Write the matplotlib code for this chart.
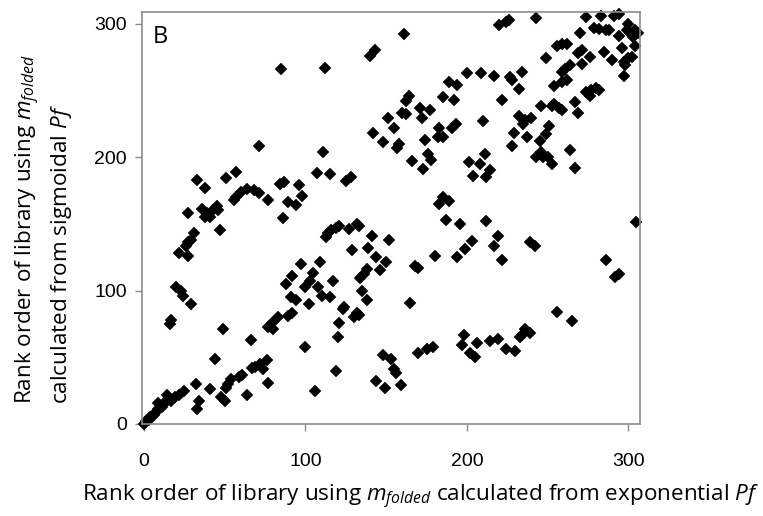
import matplotlib
matplotlib.use("Agg")
import matplotlib.pyplot as plt

plt.rcParams["font.family"] = ["Open Sans", "DejaVu Sans"]
plt.rcParams["mathtext.fontset"] = "custom"
plt.rcParams["mathtext.rm"] = "Open Sans"
plt.rcParams["mathtext.it"] = "Open Sans:italic"

# rank from exponential Pf (x) vs rank from sigmoidal Pf (y)
rank_exp = [
    85, 71, 57, 51, 33, 38, 64, 60, 57, 56, 68, 71, 77, 84, 87, 96, 98, 89, 94,
    27, 36, 39, 41, 43, 45, 46, 38,
    161, 140, 143, 112, 200, 189, 194, 185, 192, 164, 162, 160, 162, 151, 155,
    171, 177, 172, 142, 148, 158, 157, 174, 183, 182, 185, 191, 193, 176, 178,
    166, 173, 111, 107, 115, 125, 128, 185, 183, 189,
    201, 208, 211, 204, 214, 212,
    220, 224, 226, 243, 274, 283, 291, 294, 300, 304, 306, 301, 299, 286, 294,
    279, 282, 288, 270, 259, 256, 262, 271, 269, 276, 285, 296, 304, 303, 290,
    297, 300, 302, 298, 297, 249, 264, 261, 259, 271, 262, 259, 254, 274, 277,
    280, 282, 276, 267, 269, 254, 257, 253, 259, 246, 209, 217, 234, 227, 228,
    232, 222, 210, 232, 236, 240, 235, 251, 229, 237, 249, 245, 228, 246, 243,
    247, 250, 253, 264, 267,
    86, 47, 31, 29, 27, 26, 22, 27, 20, 23, 24, 29, 17, 16, 49, 44, 66, 97, 92,
    88, 100, 91, 94, 92, 89, 100, 83, 79, 80, 77, 76, 72, 69, 74, 67, 61, 59,
    54, 52, 51, 77, 64, 48, 50, 41, 32, 34, 33,
    25, 22, 19, 17, 14, 12, 11, 9, 7, 6, 4, 3, 1, 0, 14, 9, 102,
    187, 196, 113, 114, 116, 119, 121, 127, 132, 133, 141, 152, 139, 129, 144,
    150, 146, 138, 136, 134, 135, 138, 109, 105, 103, 108, 110, 115, 117, 124,
    123, 132, 130, 133, 121, 120, 119, 106, 168, 170, 180, 165, 194, 199, 203,
    148, 153, 155, 156, 144, 149, 159, 170, 175, 179,
    198, 197, 202, 205, 206,
    212, 219, 217, 222, 239, 242, 305, 286, 292, 294, 256, 265, 214, 219, 224,
    230, 234, 236, 239, 233,
]
rank_sig = [
    266, 208, 189, 184, 183, 177, 176, 174, 170, 168, 175, 173, 168, 180, 181,
    179, 171, 166, 164,
    158, 161, 158, 155, 160, 163, 160, 155,
    292, 276, 280, 267, 263, 256, 254, 245, 243, 246, 242, 233, 232, 229, 222,
    237, 235, 229, 218, 211, 210, 207, 213, 222, 215, 215, 222, 225, 202, 198,
    197, 191, 204, 188, 187, 182, 185, 170, 165, 167,
    196, 195, 202, 186, 190, 185,
    299, 301, 303, 304, 305, 306, 306, 307, 300, 295, 293, 293, 295, 295, 291,
    297, 296, 295, 293, 285, 283, 285, 280, 278, 275, 279, 282, 283, 290, 273,
    271, 274, 275, 269, 261, 274, 269, 266, 264, 270, 258, 256, 253, 249, 250,
    252, 250, 246, 241, 233, 240, 237, 238, 235, 238, 263, 261, 264, 260, 258,
    251, 243, 227, 231, 228, 229, 225, 223, 218, 215, 217, 212, 208, 204, 200,
    200, 200, 195, 205, 192,
    154, 145, 143, 138, 136, 133, 128, 126, 103, 100, 96, 90, 78, 75, 71, 49,
    63, 120, 111, 105, 103, 95, 93, 83, 81, 58, 80, 76, 71, 73, 48, 45, 43, 41,
    42, 37, 35, 34, 30, 27, 31, 22, 20, 17, 26, 30, 17, 11,
    25, 22, 20, 17, 18, 14, 13, 11, 8, 7, 5, 3, 2, 0, 22, 16, 90,
    153, 150, 140, 143, 145, 147, 148, 146, 150, 148, 141, 138, 132, 130, 125,
    121, 115, 116, 112, 109, 100, 93, 121, 113, 107, 103, 96, 95, 107, 88, 86,
    83, 80, 82, 76, 65, 40, 25, 118, 117, 126, 91, 125, 131, 137, 52, 49, 41,
    38, 32, 27, 29, 53, 56, 58,
    67, 59, 53, 50, 61,
    152, 141, 133, 123, 136, 133, 151, 123, 110, 112, 84, 77, 62, 64, 56, 55,
    67, 71, 68, 65,
]
x_ticks = [0, 100, 200, 300]
y_ticks = [0, 100, 200, 300]

W, H = 763, 516
fig = plt.figure(figsize=(W / 100, H / 100), dpi=100)
ax = fig.add_axes([142 / W, 1 - 424 / H, (640 - 142) / W, (424 - 11.5) / H])

ax.plot(rank_exp, rank_sig, linestyle="none", marker="D", markersize=5.9,
        markerfacecolor="black", markeredgecolor="black", markeredgewidth=0.3,
        clip_on=False)

ax.set_xlim(-1.2, 307.2)
ax.set_ylim(0, 309)
ax.set_xticks(x_ticks)
ax.set_yticks(y_ticks)

for s in ax.spines.values():
    s.set_color("#8c8c8c")
    s.set_linewidth(1.2)
ax.tick_params(direction="out", length=5, width=1, color="#8c8c8c",
               labelsize=14, labelcolor="black")
ax.tick_params(axis="x", pad=16)
ax.tick_params(axis="y", pad=6)
for lab in ax.get_xticklabels() + ax.get_yticklabels():
    lab.set_fontfamily("Liberation Sans")

fig.text(153 / W, 1 - 43 / H, "B", fontsize=17, va="baseline", ha="left")

fig.text(421 / W, 1 - 497 / H,
         r"Rank order of library using $\mathit{m}_{\mathit{folded}}$ calculated from exponential $\mathit{Pf}$",
         fontsize=16.2, ha="center", va="center")
fig.text(44 / W, 1 - 404 / H,
         "Rank order of library using $\\mathit{m}_{\\mathit{folded}}$\ncalculated from sigmoidal $\\mathit{Pf}$",
         fontsize=16.2, rotation=90, ha="center", va="bottom",
         multialignment="left", linespacing=1.35)

fig.savefig("out.png", dpi=100)
